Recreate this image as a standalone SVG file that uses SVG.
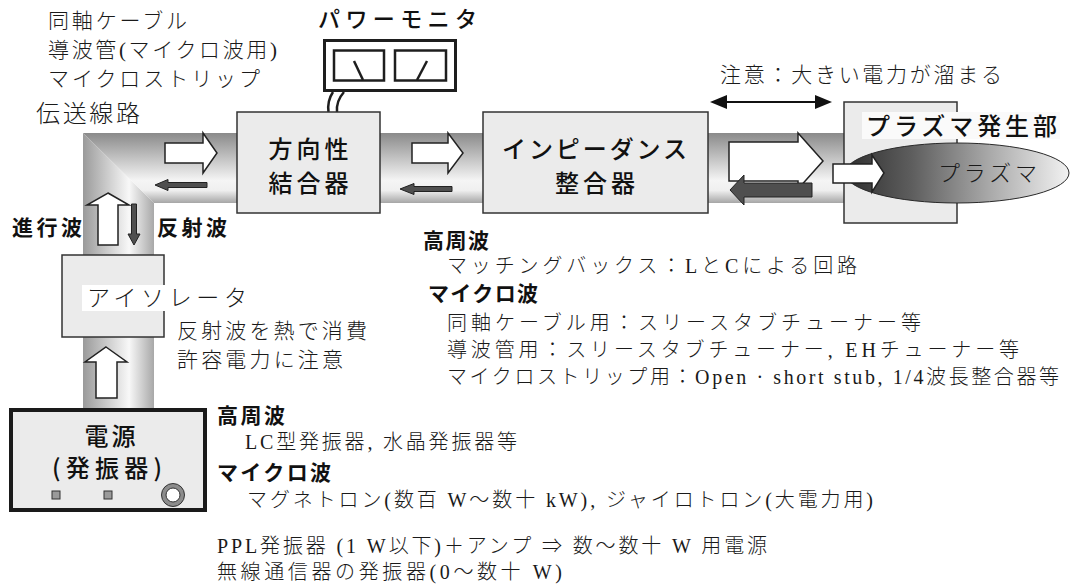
<svg xmlns="http://www.w3.org/2000/svg" width="1070" height="588" viewBox="0 0 1070 588">
  <defs>
    <style>
      .t  { font-family: "Liberation Serif", "Noto Sans CJK JP", serif; font-weight: 300; fill: #1a1a1a; }
      .j  { font-family: "Noto Sans CJK JP", "Liberation Sans", sans-serif; font-weight: 300; fill: #1a1a1a; }
      .b  { font-family: "Noto Sans CJK JP", "Liberation Sans", sans-serif; font-weight: 700; fill: #111; }
      .m  { font-family: "Noto Sans CJK JP", "Liberation Sans", sans-serif; font-weight: 500; fill: #111; }
      .box { fill: #ebebeb; stroke: #333; stroke-width: 1.5; }
      .fw  { fill: #fff; stroke: #222; stroke-width: 1.5; stroke-linejoin: miter; }
      .rv  { fill: #4f4f4f; stroke: #222; stroke-width: 1; }
      .meter { fill: #fff; stroke: #1e1e1e; }
    </style>
    <!-- shading across the horizontal run of the line -->
    <linearGradient id="tubeH" gradientUnits="userSpaceOnUse" x1="0" y1="133" x2="0" y2="203">
      <stop offset="0" stop-color="#8a8a8a"/>
      <stop offset="0.68" stop-color="#f5f5f5"/>
      <stop offset="0.82" stop-color="#efefef"/>
      <stop offset="1" stop-color="#a6a6a6"/>
    </linearGradient>
    <!-- shading across the vertical run of the line -->
    <linearGradient id="tubeV" gradientUnits="userSpaceOnUse" x1="83" y1="0" x2="154" y2="0">
      <stop offset="0" stop-color="#9a9a9a"/>
      <stop offset="0.65" stop-color="#f8f8f8"/>
      <stop offset="1" stop-color="#a8a8a8"/>
    </linearGradient>
    <linearGradient id="plasma" gradientUnits="userSpaceOnUse" x1="845" y1="0" x2="1069" y2="0">
      <stop offset="0" stop-color="#2e2e2e"/>
      <stop offset="0.3" stop-color="#5e5e5e"/>
      <stop offset="0.65" stop-color="#aaaaaa"/>
      <stop offset="1" stop-color="#f2f2f2"/>
    </linearGradient>
  </defs>

  <!-- transmission line (mitred elbow) -->
  <g id="line">
    <polygon points="83,133 154,203 154,410 83,410" fill="url(#tubeV)"/>
    <polygon points="83,133 844,133 844,203 154,203" fill="url(#tubeH)"/>
  </g>

  <!-- line type labels -->
  <g id="line-labels">
    <text class="t" x="48" y="28" font-size="21" textLength="139">同軸ケーブル</text>
    <text class="t" x="48" y="57" font-size="21" textLength="229">導波管(マイクロ波用)</text>
    <text class="t" x="48" y="86" font-size="21" textLength="212">マイクロストリップ</text>
    <text class="t" x="36" y="122" font-size="24" textLength="104">伝送線路</text>
  </g>

  <!-- power monitor -->
  <g id="power-monitor">
    <text class="m" x="318" y="27" font-size="22" textLength="159">パワーモニタ</text>
    <rect x="324.5" y="40.5" width="131" height="50" fill="#fff" stroke="#1e1e1e" stroke-width="3"/>
    <rect class="meter" x="334" y="50.5" width="50" height="30" stroke-width="2.5"/>
    <rect class="meter" x="395" y="50.5" width="51" height="30" stroke-width="2.5"/>
    <line x1="354" y1="61" x2="363" y2="80" stroke="#1e1e1e" stroke-width="2.5"/>
    <line x1="427" y1="61" x2="417" y2="80" stroke="#1e1e1e" stroke-width="2.5"/>
    <path d="M333,92 Q327,101 328.5,112" fill="none" stroke="#1e1e1e" stroke-width="2.5"/>
    <path d="M344,92 Q336,101 337,112" fill="none" stroke="#1e1e1e" stroke-width="2.5"/>
  </g>

  <!-- directional coupler -->
  <g id="coupler">
    <rect class="box" x="237" y="112" width="143" height="101"/>
    <text class="m" x="308.5" y="158" font-size="24" text-anchor="middle" textLength="80">方向性</text>
    <text class="m" x="308.5" y="192" font-size="24" text-anchor="middle" textLength="80">結合器</text>
  </g>

  <!-- impedance matcher -->
  <g id="matcher">
    <rect class="box" x="483" y="112" width="225" height="101"/>
    <text class="m" x="594.5" y="158" font-size="24" text-anchor="middle" textLength="185">インピーダンス</text>
    <text class="m" x="595" y="192" font-size="24" text-anchor="middle" textLength="80">整合器</text>
  </g>

  <!-- plasma source -->
  <g id="plasma-source">
    <rect class="box" x="844" y="102" width="113" height="121"/>
    <rect x="862" y="112" width="198" height="27" fill="#fafafa"/>
    <text class="m" x="866" y="135" font-size="24" textLength="191">プラズマ発生部</text>
    <ellipse cx="957" cy="173" rx="112" ry="30" fill="url(#plasma)" stroke="#2a2a2a" stroke-width="1"/>
    <text class="j" x="938" y="181" font-size="22" textLength="99">プラズマ</text>
  </g>

  <!-- isolator -->
  <g id="isolator">
    <rect class="box" x="62" y="255" width="102" height="82"/>
    <rect x="82" y="285" width="180" height="26" fill="#fff"/>
    <text class="j" x="87" y="306" font-size="23" textLength="160">アイソレータ</text>
    <text class="j" x="177" y="338" font-size="21" textLength="190">反射波を熱で消費</text>
    <text class="j" x="177" y="367" font-size="21" textLength="166">許容電力に注意</text>
  </g>

  <!-- power supply / oscillator -->
  <g id="source">
    <rect x="11" y="410" width="194" height="100" fill="#ebebeb" stroke="#1a1a1a" stroke-width="4"/>
    <text class="m" x="110" y="445" font-size="24" text-anchor="middle" textLength="51">電源</text>
    <text class="m" x="107" y="477" font-size="24" text-anchor="middle" textLength="110">(発振器)</text>
    <rect x="52" y="491" width="8" height="8" fill="#9a9a9a" stroke="#333" stroke-width="1"/>
    <rect x="104" y="491" width="8" height="8" fill="#9a9a9a" stroke="#333" stroke-width="1"/>
    <circle cx="173" cy="495" r="11.5" fill="#8c8c8c" stroke="#333" stroke-width="1"/>
    <circle cx="173" cy="495" r="7" fill="#fff" stroke="#333" stroke-width="1"/>
  </g>

  <!-- travelling / reflected wave arrows -->
  <g id="connectors">
    <polygon class="fw" points="165,143 203,143 203,133 217,153 203,173 203,163 165,163"/>
    <polygon class="rv" points="155,185 168,179.5 168,182.5 207,182.5 207,187.5 168,187.5 168,190.5"/>
    <polygon class="fw" points="108,193 129,205 118,205 118,245 98,245 98,205 87,205"/>
    <polygon class="rv" points="131.5,204 136.5,204 136.5,234 140,234 134,245 128,234 131.5,234"/>
    <polygon class="fw" points="106,347 127,362 117,362 117,398 96,398 96,362 85,362"/>
    <polygon class="fw" points="412,143 448,143 448,133 463,153 448,173 448,163 412,163"/>
    <polygon class="rv" points="400,189 414,183.5 414,186.5 452,186.5 452,191.5 414,191.5 414,194.5"/>
    <polygon class="fw" points="729,142 798,142 798,133 823,161 798,189 798,181 729,181"/>
    <polygon class="rv" points="730,190 744,175 744,183 812,183 812,197 744,197 744,205"/>
    <polygon class="fw" points="833,164 872,164 872,155 884,173 872,192 872,183 833,183"/>
    <!-- span where large power builds up -->
    <line x1="722" y1="102" x2="820" y2="102" stroke="#111" stroke-width="2"/>
    <polygon points="710,102 727,95 727,109" fill="#111"/>
    <polygon points="832,102 815,95 815,109" fill="#111"/>
  </g>

  <g id="wave-labels">
    <text class="b" x="12" y="235" font-size="21" textLength="70">進行波</text>
    <text class="b" x="157" y="235" font-size="21" textLength="70">反射波</text>
    <text class="t" x="720" y="82" font-size="21" textLength="282">注意：大きい電力が溜まる</text>
  </g>

  <!-- matching methods -->
  <g id="matching-notes">
    <text class="b" x="423" y="248" font-size="21" textLength="66">高周波</text>
    <text class="t" x="447" y="273" font-size="20" textLength="410">マッチングバックス：LとCによる回路</text>
    <text class="b" x="428" y="301" font-size="21" textLength="110">マイクロ波</text>
    <text class="t" x="447" y="330" font-size="20" textLength="474">同軸ケーブル用：スリースタブチューナー等</text>
    <text class="t" x="447" y="357" font-size="20" textLength="572">導波管用：スリースタブチューナー, EHチューナー等</text>
    <text class="t" x="447" y="384" font-size="20" textLength="612">マイクロストリップ用：Open · short stub, 1/4波長整合器等</text>
  </g>

  <!-- oscillator types -->
  <g id="source-notes">
    <text class="b" x="217" y="423" font-size="21" textLength="68">高周波</text>
    <text class="t" x="245" y="449" font-size="20" textLength="272">LC型発振器, 水晶発振器等</text>
    <text class="b" x="217" y="480" font-size="21" textLength="114">マイクロ波</text>
    <text class="t" x="247" y="507" font-size="20" textLength="626">マグネトロン(数百 W～数十 kW), ジャイロトロン(大電力用)</text>
    <text class="t" x="217" y="553" font-size="20" textLength="550">PPL発振器 (1 W以下)＋アンプ ⇒ 数～数十 W 用電源</text>
    <text class="t" x="217" y="579" font-size="20" textLength="345">無線通信器の発振器(0～数十 W)</text>
  </g>
</svg>
